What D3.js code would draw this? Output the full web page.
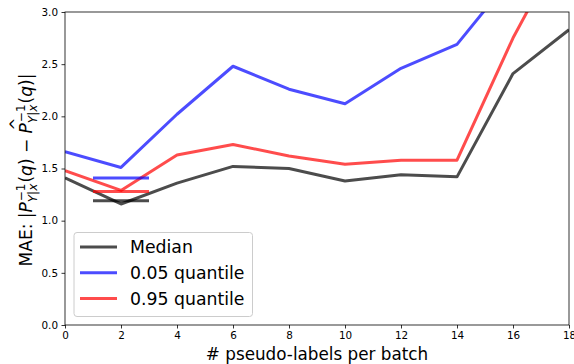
<!DOCTYPE html>
<html><head><meta charset="utf-8">
<script src="https://cdn.jsdelivr.net/npm/d3@7"></script>
<style>body{margin:0;background:#fff}svg{display:block;font-family:"DejaVu Sans",sans-serif}</style>
</head><body><svg id="c" width="574" height="364"></svg>
<script>
const xs = [0,2,4,6,8,10,12,14,16,18];
const median = [1.41,1.16,1.36,1.52,1.50,1.38,1.44,1.42,2.41,2.83];
const q05 = [1.66,1.51,2.02,2.48,2.26,2.12,2.46,2.69,3.35,3.9];
const q95 = [1.48,1.29,1.63,1.73,1.62,1.54,1.58,1.58,2.75,3.75];
const baselines = [1.19,1.41,1.28]; // median, 0.05, 0.95 reference segments from x=1 to 3
const seriesNames = ["Median","0.05 quantile","0.95 quantile"];
const colors = ["rgba(0,0,0,0.7)","rgba(0,0,255,0.7)","rgba(255,0,0,0.7)"];
const xTicks = [0,2,4,6,8,10,12,14,16,18];
const yTicks = [0,0.5,1,1.5,2,2.5,3];

const svg = d3.select("#c");
const L=65,R=569,T=12,B=325;
const x = d3.scaleLinear().domain([0,18]).range([L,R]);
const y = d3.scaleLinear().domain([0,3]).range([B,T]);

svg.append("clipPath").attr("id","clip").append("rect").attr("x",L).attr("y",T).attr("width",R-L).attr("height",B-T);
const g = svg.append("g").attr("clip-path","url(#clip)");
const line = d3.line().x((d,i)=>x(xs[i])).y(d=>y(d));
[median,q05,q95].forEach((s,k)=>{
  g.append("path").attr("d",line(s)).attr("fill","none").attr("stroke",colors[k]).attr("stroke-width",3).attr("stroke-linejoin","round");
});
baselines.forEach((b,k)=>{
  g.append("line").attr("x1",x(1)).attr("x2",x(3)).attr("y1",y(b)).attr("y2",y(b)).attr("stroke",colors[k]).attr("stroke-width",3);
});

// axes
const xa = svg.append("g").attr("transform",`translate(0,${B})`).call(d3.axisBottom(x).tickValues(xTicks).tickFormat(d3.format("d")).tickSize(3.5).tickPadding(3.5));
const ya = svg.append("g").attr("transform",`translate(${L},0)`).call(d3.axisLeft(y).tickValues(yTicks).tickFormat(d3.format(".1f")).tickSize(3.5).tickPadding(3.5));
[xa,ya].forEach(a=>{a.select(".domain").remove();a.selectAll("text").attr("font-size",10.4).attr("fill","#000").attr("font-family","DejaVu Sans");a.selectAll("line").attr("stroke","#000").attr("stroke-width",0.8);});
svg.append("rect").attr("x",L).attr("y",T).attr("width",R-L).attr("height",B-T).attr("fill","none").attr("stroke","#000").attr("stroke-width",0.8);

// x label
svg.append("text").attr("x",(L+R)/2).attr("y",360).attr("text-anchor","middle").attr("font-size",16.8).text("# pseudo-labels per batch");

// y label (mathtext-like)
const yl = svg.append("g").attr("transform","translate(32,170) rotate(-90)");
const fs=17, sfs=12;
let cx=0;
function piece(t,opts={}){
  return yl.append("text").attr("x",0).attr("y",opts.dy||0).attr("font-size",opts.fs||fs).attr("font-style",opts.it?"italic":"normal").style("white-space","pre").text(t);
}
function seq(items){
  items.forEach(it=>{
    if(it.stack){
      const a=piece(it.sup,{fs:sfs,dy:-7});
      const b=piece(it.sub,{fs:sfs,it:true,dy:5});
      a.attr("x",cx+(it.supOff||0)); b.attr("x",cx);
      const w=Math.max(a.node().getComputedTextLength()+(it.supOff||0),b.node().getComputedTextLength());
      cx+=w+1;
    } else {
      const e=piece(it.t,{it:it.it}); e.attr("x",cx);
      if(it.hat){yl.append("text").attr("x",cx+3).attr("y",-11).attr("font-size",fs*0.9).text("^");}
      cx+=e.node().getComputedTextLength()+(it.pad||0);
    }
  });
}
seq([{t:"MAE: |"},{t:"P",it:true},{stack:1,sup:"−1",sub:"Y|x",supOff:1},{t:"("},{t:"q",it:true},{t:") − "},{t:"P",it:true,hat:1},{stack:1,sup:"−1",sub:"Y|x",supOff:1},{t:"("},{t:"q",it:true},{t:")|"}]);
yl.selectAll("text").attr("transform",`translate(${-cx/2},0)`);

// legend
const lg = svg.append("g");
lg.append("rect").attr("x",74).attr("y",232.5).attr("width",178.5).attr("height",84).attr("rx",3).attr("fill","rgba(255,255,255,0.8)").attr("stroke","#ccc").attr("stroke-width",1);
seriesNames.forEach((n,k)=>{
  const yy=247+k*25.8;
  lg.append("line").attr("x1",80).attr("x2",117).attr("y1",yy).attr("y2",yy).attr("stroke",colors[k]).attr("stroke-width",3);
  lg.append("text").attr("x",130).attr("y",yy+6).attr("font-size",17.3).text(n);
});
</script></body></html>
